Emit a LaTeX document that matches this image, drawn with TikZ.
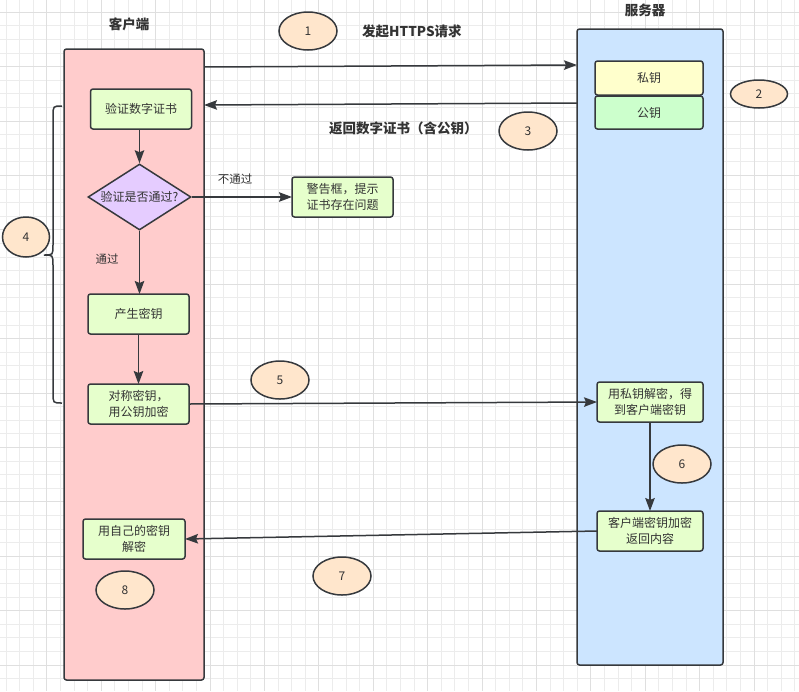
\documentclass[tikz,border=0pt]{standalone}
\usepackage{fontspec}
\setmainfont{Noto Sans CJK SC}
\usetikzlibrary{arrows.meta,shapes.geometric}
\definecolor{ln}{HTML}{36393D}
\definecolor{txt}{HTML}{333333}
\definecolor{pinkf}{HTML}{FFCCCC}
\definecolor{bluef}{HTML}{CCE5FF}
\definecolor{greenf}{HTML}{E6FFCC}
\definecolor{yellowf}{HTML}{FFFFCC}
\definecolor{mintf}{HTML}{CCFFCC}
\definecolor{purplef}{HTML}{E5CCFF}
\definecolor{orangef}{HTML}{FFE6CC}
\definecolor{gridminor}{HTML}{ECECEC}
\definecolor{gridmajor}{HTML}{DFDFDF}
\tikzset{
  lane/.style={draw=ln, line width=1.5pt, rounded corners=2.5pt, inner sep=0pt, outer sep=0pt},
  box/.style={draw=ln, line width=1.5pt, rounded corners=2.5pt, fill=greenf, inner sep=0pt, outer sep=0pt,
    minimum width=101pt, minimum height=40pt, align=center, text=txt, font=\fontsize{12}{16}\selectfont},
  num/.style={ellipse, draw=ln, line width=1.5pt, fill=orangef, minimum width=58pt, minimum height=38pt,
    inner sep=0pt, text=txt, font=\fontsize{12}{14}\selectfont},
  title/.style={text=txt, font=\fontsize{13.5}{16}\selectfont\bfseries, inner sep=0pt},
  lbl/.style={text=txt, font=\fontsize{11.5}{14}\selectfont, inner sep=0pt},
  arr/.style={draw=ln, line width=1.5pt, -{Stealth[length=13pt, width=9.5pt, inset=2pt]}},
}
\begin{document}
\begin{tikzpicture}[x=1pt, y=-1pt]
\useasboundingbox (0,0) rectangle (799,691);
\fill[white] (0,0) rectangle (799,691);
% grid
\foreach \i in {0,...,58} {\draw[gridminor, line width=0.8pt] ({5.9+13.6*\i},0) -- ({5.9+13.6*\i},691);}
\foreach \i in {0,...,50} {\draw[gridminor, line width=0.8pt] (0,{12.1+13.6*\i}) -- (799,{12.1+13.6*\i});}
\foreach \i in {0,...,14} {\draw[gridmajor, line width=0.8pt] ({46.7+54.4*\i},0) -- ({46.7+54.4*\i},691);}
\foreach \i in {0,...,12} {\draw[gridmajor, line width=0.8pt] (0,{12.1+54.4*\i}) -- (799,{12.1+54.4*\i});}

% lanes
\node[lane, fill=pinkf, minimum width=140pt, minimum height=631pt] (cl) at (134,364.5) {};
\node[lane, fill=bluef, minimum width=146pt, minimum height=636pt] (sv) at (650,347) {};
\node[title] (clt) at (129,24) {客户端};
\node[title] (svt) at (645,10) {服务器};

% server key boxes
\node[box, fill=yellowf, minimum width=108pt, minimum height=34pt] (priv) at (649,78) {私钥};
\node[box, fill=mintf, minimum width=108pt, minimum height=33pt] (pub) at (649,112.5) {公钥};

% client flow
\node[box] (verify) at (141,109) {验证数字证书};
\node[diamond, draw=ln, line width=1.5pt, fill=purplef, minimum width=103pt, minimum height=66pt,
      aspect=1.56, inner sep=0pt, text=txt, font=\fontsize{12}{16}\selectfont] (dia) at (139.5,197) {验证是否通过?};
\node[box] (warn) at (342.5,197) {警告框，提示\\证书存在问题};
\node[box] (gen) at (138.5,314) {产生密钥};
\node[box] (sym) at (138.5,404) {对称密钥，\\用公钥加密};
\node[box, minimum width=106pt] (dec) at (650,402) {用私钥解密，得\\到客户端密钥};
\node[box, minimum width=106pt] (enc) at (650,531) {客户端密钥加密\\返回内容};
\node[box, minimum width=102pt] (own) at (134,539) {用自己的密钥\\解密};

% labels
\node[title, anchor=west] (l1) at (362,31) {发起HTTPS请求};
\node[title, anchor=west] (l3) at (329,128) {返回数字证书（含公钥）};
\node[lbl] (nopass) at (235,179) {不通过};
\node[lbl] (pass) at (107,259) {通过};

% numbers
\node[num] (n1) at (308,31) {1};
\node[num, minimum width=57pt, minimum height=28pt] (n2) at (759,94) {2};
\node[num] (n3) at (528,131) {3};
\node[num, minimum width=47pt, minimum height=40pt] (n4) at (26,237) {4};
\node[num] (n5) at (280,380) {5};
\node[num] (n6) at (682,464) {6};
\node[num] (n7) at (342,576) {7};
\node[num] (n8) at (125,590) {8};

% arrows
\draw[arr] (cl.east |- 0,67) -- (sv.west |- 0,65);
\draw[arr] (sv.west |- 0,103) -- (cl.east |- 0,105);
\draw[arr] (verify.south -| dia.north) -- (dia.north);
\draw[arr] (dia.east) -- (warn.west);
\draw[arr] (dia.south) -- (gen.north -| dia.south);
\draw[arr] (gen.south) -- (sym.north);
\draw[arr] (sym.east) -- (dec.west);
\draw[arr] (dec.south) -- (enc.north);
\draw[arr] (enc.west) -- (own.east);

% brace
\coordinate (bt) at (62,106);
\coordinate (bm) at (44,255);
\coordinate (bb) at (62,403);
\draw[ln, line width=1.5pt] (bt) .. controls (53,106) .. (53,116) -- (53,245)
  .. controls (53,255) .. (bm) .. controls (53,255) .. (53,265) -- (53,393)
  .. controls (53,403) .. (bb);
\end{tikzpicture}
\end{document}
